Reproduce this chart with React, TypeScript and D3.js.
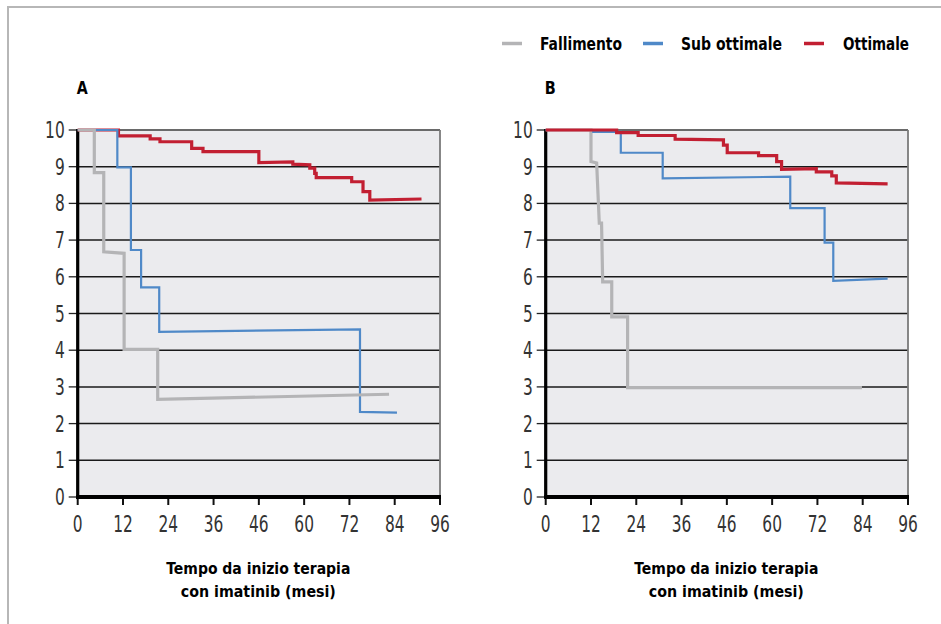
import React, { useEffect, useRef } from 'react';
import * as d3 from 'd3';

// Tick labels as printed (note the "46" in the original)
const xTickLabels = ['0', '12', '24', '36', '46', '60', '72', '84', '96'];
const yTickValues = [0, 1, 2, 3, 4, 5, 6, 7, 8, 9, 10];

// Series: vertices [month, value]
const seriesNames = ['Fallimento', 'Sub ottimale', 'Ottimale'];

const fallimentoA: [number, number][] = [
  [0, 10], [4.4, 10], [4.4, 8.84], [6.9, 8.84], [6.9, 6.68], [12.3, 6.64],
  [12.3, 4.02], [21.2, 4.02], [21.2, 2.66], [82.5, 2.8],
];
const subOttimaleA: [number, number][] = [
  [0, 10], [10.5, 10], [10.5, 8.98], [14.1, 8.98], [14.1, 6.73], [16.8, 6.73],
  [16.8, 5.71], [21.6, 5.71], [21.6, 4.5], [74.8, 4.57], [74.8, 2.32], [84.6, 2.3],
];
const ottimaleA: [number, number][] = [
  [0, 10], [10.8, 10], [10.8, 9.84], [19.2, 9.84], [19.2, 9.76], [21.8, 9.76],
  [21.8, 9.68], [30.2, 9.68], [30.2, 9.5], [33.2, 9.5], [33.2, 9.41], [48, 9.41],
  [48, 9.11], [57, 9.13], [57, 9.07], [61.5, 9.05], [61.5, 8.96], [62.8, 8.96],
  [62.8, 8.82], [63.2, 8.82], [63.2, 8.7], [72.6, 8.7], [72.6, 8.59], [75.6, 8.59],
  [75.6, 8.32], [77.4, 8.32], [77.4, 8.09], [91.1, 8.12],
];

const fallimentoB: [number, number][] = [
  [0, 10], [12.0, 10], [12.0, 9.14], [13.5, 9.1], [14.2, 7.46], [14.8, 7.46],
  [15.1, 5.86], [17.5, 5.86], [17.5, 4.91], [21.7, 4.91], [21.7, 2.98], [83.8, 2.98],
];
const subOttimaleB: [number, number][] = [
  [0, 10], [12.6, 10], [12.6, 9.95], [19.9, 9.95], [19.9, 9.38], [31, 9.38],
  [31, 8.68], [64.8, 8.73], [64.8, 7.87], [73.9, 7.87], [73.9, 6.93], [76.2, 6.93],
  [76.2, 5.89], [90.6, 5.95],
];
const ottimaleB: [number, number][] = [
  [0, 10], [18.8, 10], [18.8, 9.93], [24.5, 9.93], [24.5, 9.85], [34.3, 9.85],
  [34.3, 9.75], [47.1, 9.73], [47.1, 9.59], [48.1, 9.59], [48.1, 9.38], [56.4, 9.38],
  [56.4, 9.3], [61.2, 9.3], [61.2, 9.14], [62.5, 9.14], [62.5, 8.93], [71.7, 8.95],
  [71.7, 8.86], [75.8, 8.86], [75.8, 8.75], [77, 8.75], [77, 8.56], [90.6, 8.53],
];

const App = () => {
  const svgRef = useRef<SVGSVGElement>(null);

  const width = 941;
  const height = 624;
  const colors = ['#b4b4b6', '#4f89c8', '#c21f32'];
  const strokeWidths = [3.2, 2.2, 3.2];
  const tickFont = "'Liberation Sans Narrow', 'DejaVu Sans Condensed', Roboto, sans-serif";
  const boldFont = "'Liberation Sans Narrow', 'DejaVu Sans Condensed', 'DejaVu Sans', sans-serif";

  useEffect(() => {
    const svg = d3.select(svgRef.current);
    svg.selectAll('*').remove();

    // outer frame (open on right / bottom)
    svg
      .append('rect')
      .attr('x', 8)
      .attr('y', 7)
      .attr('width', 1000)
      .attr('height', 700)
      .attr('fill', 'none')
      .attr('stroke', '#b7b7b7')
      .attr('stroke-width', 2);

    // legend
    const legendX = [502, 643, 804];
    const legendTextX = [540, 681, 843];
    const legendTextW = [82, 101, 66];
    seriesNames.forEach((name, i) => {
      svg
        .append('line')
        .attr('x1', legendX[i])
        .attr('x2', legendX[i] + 20)
        .attr('y1', 43.5)
        .attr('y2', 43.5)
        .attr('stroke', colors[i])
        .attr('stroke-width', 3.5);
      svg
        .append('text')
        .attr('x', legendTextX[i])
        .attr('y', 50)
        .attr('textLength', legendTextW[i])
        .attr('lengthAdjust', 'spacingAndGlyphs')
        .style('font-family', boldFont)
        .style('font-weight', 'bold')
        .style('font-size', '17px')
        .style('fill', '#000')
        .text(name);
    });

    // drawing order differs per panel (which line sits on top at 10)
    const panels = [
      { label: 'A', left: 77.7, right: 440, data: [fallimentoA, subOttimaleA, ottimaleA], order: [2, 1, 0] },
      { label: 'B', left: 545.7, right: 908, data: [fallimentoB, subOttimaleB, ottimaleB], order: [0, 1, 2] },
    ];
    const top = 130;
    const bottom = 497;

    panels.forEach((p) => {
      const g = svg.append('g');
      const xScale = d3.scaleLinear().domain([0, 96]).range([p.left, p.right]);
      const yScale = d3.scaleLinear().domain([0, 10]).range([bottom, top]);

      // panel letter
      g.append('text')
        .attr('x', p.left - 1)
        .attr('y', 94)
        .attr('textLength', 11)
        .attr('lengthAdjust', 'spacingAndGlyphs')
        .style('font-family', boldFont)
        .style('font-weight', 'bold')
        .style('font-size', '17px')
        .style('fill', '#000')
        .text(p.label);

      // plot background
      g.append('rect')
        .attr('x', p.left)
        .attr('y', top)
        .attr('width', p.right - p.left)
        .attr('height', bottom - top)
        .attr('fill', '#ebebee');

      // horizontal grid lines
      g.selectAll('line.grid')
        .data(yTickValues.filter((d) => d > 0 && d < 10))
        .enter()
        .append('line')
        .attr('class', 'grid')
        .attr('x1', p.left)
        .attr('x2', p.right)
        .attr('y1', (d) => yScale(d))
        .attr('y2', (d) => yScale(d))
        .attr('stroke', '#1a1a1a')
        .attr('stroke-width', 1.5);

      // top and right borders
      g.append('line')
        .attr('x1', p.left)
        .attr('x2', p.right)
        .attr('y1', top)
        .attr('y2', top)
        .attr('stroke', '#6a6a6a')
        .attr('stroke-width', 1.8);
      g.append('line')
        .attr('x1', p.right)
        .attr('x2', p.right)
        .attr('y1', top)
        .attr('y2', bottom)
        .attr('stroke', '#7a7a7a')
        .attr('stroke-width', 1.8);

      // y ticks and labels
      g.selectAll('line.ytick')
        .data(yTickValues)
        .enter()
        .append('line')
        .attr('class', 'ytick')
        .attr('x1', p.left - 9)
        .attr('x2', p.left)
        .attr('y1', (d) => yScale(d))
        .attr('y2', (d) => yScale(d))
        .attr('stroke', '#222')
        .attr('stroke-width', 1.3);
      g.selectAll('text.ylab')
        .data(yTickValues)
        .enter()
        .append('text')
        .attr('class', 'ylab')
        .attr('x', p.left - 13)
        .attr('y', (d) => yScale(d) + 8)
        .attr('text-anchor', 'end')
        .attr('textLength', (d) => String(d).length * 9.8)
        .attr('lengthAdjust', 'spacingAndGlyphs')
        .style('font-family', tickFont)
        .style('font-size', '23px')
        .style('fill', '#333')
        .text((d) => String(d));

      // x ticks and labels
      g.selectAll('line.xtick')
        .data(xTickLabels)
        .enter()
        .append('line')
        .attr('class', 'xtick')
        .attr('x1', (d, i) => xScale(i * 12))
        .attr('x2', (d, i) => xScale(i * 12))
        .attr('y1', bottom)
        .attr('y2', bottom + 8)
        .attr('stroke', '#111')
        .attr('stroke-width', 2);
      g.selectAll('text.xlab')
        .data(xTickLabels)
        .enter()
        .append('text')
        .attr('class', 'xlab')
        .attr('x', (d, i) => xScale(i * 12))
        .attr('y', 532)
        .attr('text-anchor', 'middle')
        .attr('textLength', (d) => d.length * 9.8)
        .attr('lengthAdjust', 'spacingAndGlyphs')
        .style('font-family', tickFont)
        .style('font-size', '23px')
        .style('fill', '#333')
        .text((d) => d);

      // axes lines (thick black)
      g.append('line')
        .attr('x1', p.left)
        .attr('x2', p.left)
        .attr('y1', top - 1)
        .attr('y2', bottom + 2)
        .attr('stroke', '#000')
        .attr('stroke-width', 3.2);
      g.append('line')
        .attr('x1', p.left - 1.5)
        .attr('x2', p.right + 1)
        .attr('y1', bottom)
        .attr('y2', bottom)
        .attr('stroke', '#000')
        .attr('stroke-width', 4);

      // survival lines
      const line = d3
        .line<[number, number]>()
        .x((d) => xScale(d[0]))
        .y((d) => yScale(d[1]));
      p.order.forEach((i) => {
        g.append('path')
          .datum(p.data[i])
          .attr('d', line)
          .attr('fill', 'none')
          .attr('stroke', colors[i])
          .attr('stroke-width', strokeWidths[i])
          .attr('stroke-linejoin', 'miter');
      });

      // x axis title
      const cx = (p.left + p.right) / 2 - 0.5;
      g.append('text')
        .attr('x', cx)
        .attr('y', 573.5)
        .attr('text-anchor', 'middle')
        .attr('textLength', 184)
        .attr('lengthAdjust', 'spacingAndGlyphs')
        .style('font-family', boldFont)
        .style('font-weight', 'bold')
        .style('font-size', '16px')
        .style('fill', '#000')
        .text('Tempo da inizio terapia');
      g.append('text')
        .attr('x', cx)
        .attr('y', 597)
        .attr('text-anchor', 'middle')
        .attr('textLength', 155)
        .attr('lengthAdjust', 'spacingAndGlyphs')
        .style('font-family', boldFont)
        .style('font-weight', 'bold')
        .style('font-size', '16px')
        .style('fill', '#000')
        .text('con imatinib (mesi)');
    });
  }, []);

  return (
    <svg
      ref={svgRef}
      width={width}
      height={height}
      style={{ position: 'absolute', left: 0, top: 0, background: '#fff' }}
    ></svg>
  );
};

export default App;
